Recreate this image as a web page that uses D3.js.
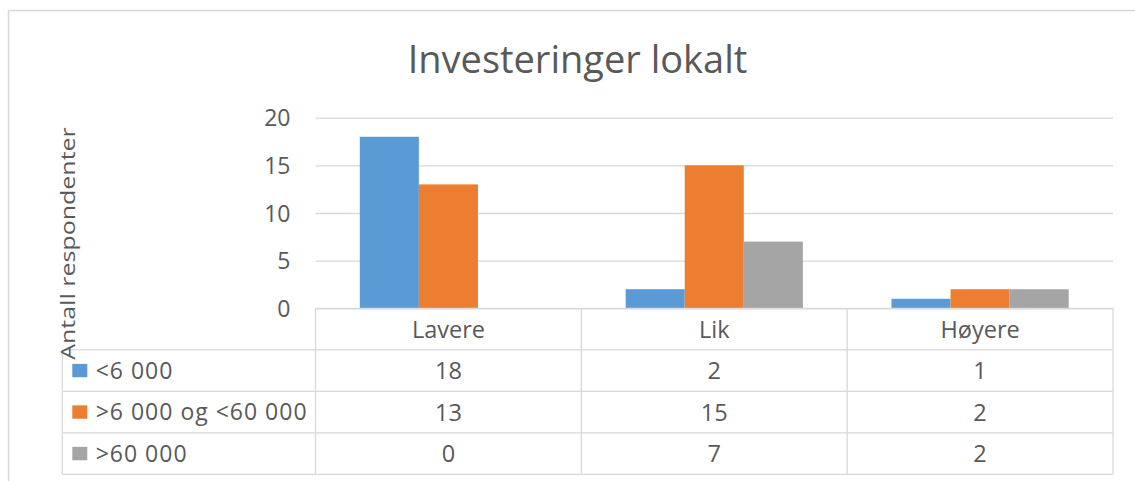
<!DOCTYPE html>
<html>
<head>
<meta charset="utf-8">
<script src="https://cdn.jsdelivr.net/npm/d3@7"></script>
<style>
  html, body { margin: 0; padding: 0; background: #fff; }
  svg { display: block; }
  text { font-family: "Open Sans", sans-serif; fill: #595959; }
</style>
</head>
<body>
<svg id="chart" width="1135" height="481"></svg>
<script>
const title = "Investeringer lokalt";
const yTitle = "Antall respondenter";
const categories = ["Lavere", "Lik", "Høyere"];
const seriesNames = ["<6 000", ">6 000 og <60 000", ">60 000"];
const seriesLt6000 = [18, 2, 1];
const series6000to60000 = [13, 15, 2];
const seriesGt60000 = [0, 7, 2];
const yTicks = [0, 5, 10, 15, 20];
const colors = ["#5B9BD5", "#ED7D31", "#A5A5A5"];

const seriesValues = [seriesLt6000, series6000to60000, seriesGt60000];

const svg = d3.select("#chart");
const plotLeft = 315.5, plotRight = 1113, plotTop = 117.7, plotBottom = 308.3;
const tableLeft = 62.3, rowH = 41.5;
const grid = "#d9d9d9";

// outer border
svg.append("rect").attr("x", 8.5).attr("y", 10.5).attr("width", 1140).attr("height", 480)
  .attr("fill", "none").attr("stroke", "#d9d9d9").attr("stroke-width", 1.5);

// title
svg.append("text").attr("x", 577.5).attr("y", 73).attr("text-anchor", "middle")
  .attr("font-size", 38).text(title);

const y = d3.scaleLinear().domain([0, 20]).range([plotBottom, plotTop]);
const x0 = d3.scaleBand().domain(categories).range([plotLeft, plotRight]).padding(0);
const x1 = d3.scaleBand().domain(seriesNames).range([0, x0.bandwidth()]).paddingInner(0).paddingOuter(0.75);

// gridlines
const yAxis = d3.axisLeft(y).tickValues(yTicks).tickSize(-(plotRight - plotLeft)).tickPadding(25).tickFormat(d3.format("d"));
const gAxis = svg.append("g").attr("transform", `translate(${plotLeft},0)`).call(yAxis);
gAxis.select(".domain").remove();
gAxis.selectAll(".tick line").attr("stroke", grid).attr("stroke-width", 1.3);
gAxis.selectAll(".tick text").attr("font-size", 23).attr("fill", "#595959")
  .attr("font-family", "Open Sans, sans-serif").attr("dy", "0.36em");

// bars
const gBars = svg.append("g");
seriesNames.forEach((s, si) => {
  gBars.selectAll(null).data(categories.map((c, ci) => ({c, v: seriesValues[si][ci]})))
    .enter().append("rect")
    .attr("x", d => x0(d.c) + x1(s))
    .attr("y", d => y(d.v))
    .attr("width", x1.bandwidth())
    .attr("height", d => plotBottom - y(d.v))
    .attr("fill", colors[si]);
});

// data table
const tableBottom = plotBottom + rowH * 4;
const gT = svg.append("g");
const line = (x1_, y1_, x2_, y2_) => gT.append("line").attr("x1", x1_).attr("y1", y1_).attr("x2", x2_).attr("y2", y2_)
  .attr("stroke", grid).attr("stroke-width", 1.3);
line(plotLeft, plotBottom, plotRight, plotBottom);
for (let r = 1; r <= 4; r++) line(tableLeft, plotBottom + rowH * r, plotRight, plotBottom + rowH * r);
line(tableLeft, plotBottom + rowH, tableLeft, tableBottom);
categories.forEach(c => line(x0(c), plotBottom, x0(c), tableBottom));
line(plotRight, plotBottom, plotRight, tableBottom);

// header
gT.selectAll(null).data(categories).enter().append("text")
  .attr("x", d => x0(d) + x0.bandwidth() / 2).attr("y", plotBottom + rowH / 2)
  .attr("dy", "0.36em").attr("text-anchor", "middle").attr("font-size", 23.5).text(d => d);

seriesNames.forEach((s, si) => {
  const cy = plotBottom + rowH * (si + 1) + rowH / 2;
  gT.append("rect").attr("x", 72.3).attr("y", cy - 6.7).attr("width", 15).attr("height", 13.4).attr("fill", colors[si]);
  gT.append("text").attr("x", 95.7).attr("y", cy).attr("dy", "0.36em").attr("font-size", 23)
    .attr("letter-spacing", 1).text(s);
  gT.selectAll(null).data(categories.map((c, ci) => ({c, v: seriesValues[si][ci]}))).enter().append("text")
    .attr("x", d => x0(d.c) + x0.bandwidth() / 2).attr("y", cy).attr("dy", "0.36em")
    .attr("text-anchor", "middle").attr("font-size", 23.5).text(d => d.v);
});

// y title
svg.append("text").attr("transform", "translate(75,243.5) rotate(-90) scale(1.25,1)")
  .attr("text-anchor", "middle").attr("font-size", 20).text(yTitle);
</script>
</body>
</html>
